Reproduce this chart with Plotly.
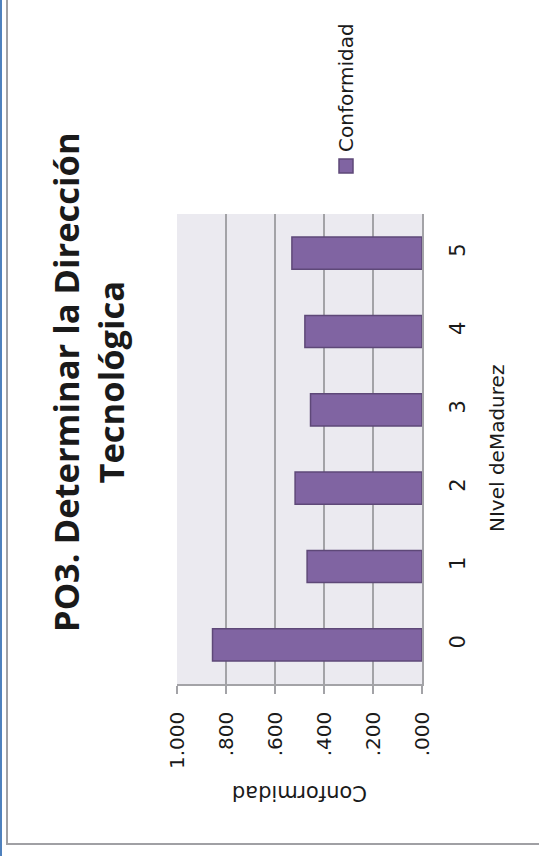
import plotly.graph_objects as go

# Maturity levels and their conformity scores
levels = [0, 1, 2, 3, 4, 5]
level_labels = ["0", "1", "2", "3", "4", "5"]
conformidad = [0.855, 0.469, 0.518, 0.455, 0.478, 0.531]

value_ticks = [0.0, 0.2, 0.4, 0.6, 0.8, 1.0]
value_tick_labels = [".000", ".200", ".400", ".600", ".800", "1.000"]

title_text = "<b>PO3. Determinar la Dirección<br>Tecnológica</b>"
series_name = "Conformidad"
category_title = "NIvel deMadurez"
value_title = "Conformidad"

W, H = 539, 856
L, R, T, B = 177, 117, 214, 172
PW, PH = W - L - R, H - T - B

BAR = "#8064A2"
BAR_EDGE = "#5E4878"
GRID = "#A3A3A7"
TXT = "#1a1a1a"
FONT = "DejaVu Sans"


def px(x):
    return (x - L) / PW


def py(y):
    return (H - B - y) / PH


fig = go.Figure()
fig.add_trace(go.Bar(
    y=levels,
    x=conformidad,
    orientation="h",
    width=0.41,
    name=series_name,
    marker=dict(color=BAR, line=dict(color=BAR_EDGE, width=1.5)),
    showlegend=False,
))

fig.update_layout(
    width=W, height=H,
    margin=dict(l=L, r=R, t=T, b=B, pad=0),
    paper_bgcolor="white",
    plot_bgcolor="#EBEAF0",
    font=dict(family=FONT, color=TXT, size=20),
    xaxis=dict(
        range=[1, 0],
        tickvals=value_ticks,
        ticktext=value_tick_labels,
        tickangle=-90,
        showgrid=True, gridcolor=GRID, gridwidth=1.5,
        zeroline=False,
        showline=True, linecolor=GRID, linewidth=1.5,
        ticks="outside", ticklen=8, tickcolor=GRID, tickwidth=1.5,
        ticklabelstandoff=10,
        tickfont=dict(family=FONT, size=20, color=TXT),
        fixedrange=True,
    ),
    yaxis=dict(
        range=[-0.5, 5.5],
        tickvals=levels,
        ticktext=level_labels,
        tickangle=-90,
        side="right",
        showgrid=False, zeroline=False,
        showline=True, linecolor=GRID, linewidth=1.5,
        ticks="",
        ticklabelstandoff=16,
        tickfont=dict(family=FONT, size=21, color=TXT),
        fixedrange=True,
    ),
)

annotations = [
    # chart title, rotated to read upward
    dict(text=title_text, x=px(88), y=py(382), xref="paper", yref="paper",
         textangle=-90, showarrow=False, xanchor="center", yanchor="middle",
         font=dict(family="Open Sans", size=34.5, color=TXT), align="center"),
    # category axis title
    dict(text=category_title, x=px(497), y=py(449), xref="paper", yref="paper",
         textangle=-90, showarrow=False, xanchor="center", yanchor="middle",
         font=dict(family=FONT, size=20, color=TXT)),
    # value axis title (upside down)
    dict(text=value_title, x=px(300), y=py(793), xref="paper", yref="paper",
         textangle=180, showarrow=False, xanchor="center", yanchor="middle",
         font=dict(family=FONT, size=21, color=TXT)),
    # legend label
    dict(text=series_name, x=px(346), y=py(88), xref="paper", yref="paper",
         textangle=-90, showarrow=False, xanchor="center", yanchor="middle",
         font=dict(family=FONT, size=20, color=TXT)),
]

shapes = [
    # legend swatch
    dict(type="rect", xref="paper", yref="paper",
         x0=px(339), x1=px(353), y0=py(173), y1=py(159),
         fillcolor=BAR, line=dict(color=BAR_EDGE, width=1.5)),
    # outer frame lines
    dict(type="line", xref="paper", yref="paper",
         x0=px(1), x1=px(1), y0=py(0), y1=py(H),
         line=dict(color="#4F81BD", width=2)),
    dict(type="line", xref="paper", yref="paper",
         x0=px(7), x1=px(7), y0=py(0), y1=py(844),
         line=dict(color="#A0A0A4", width=2)),
    dict(type="line", xref="paper", yref="paper",
         x0=px(6), x1=px(W), y0=py(844), y1=py(844),
         line=dict(color="#A0A0A4", width=2)),
]

fig.update_layout(annotations=annotations, shapes=shapes)

fig.write_html("out.html", config=dict(displayModeBar=False))
